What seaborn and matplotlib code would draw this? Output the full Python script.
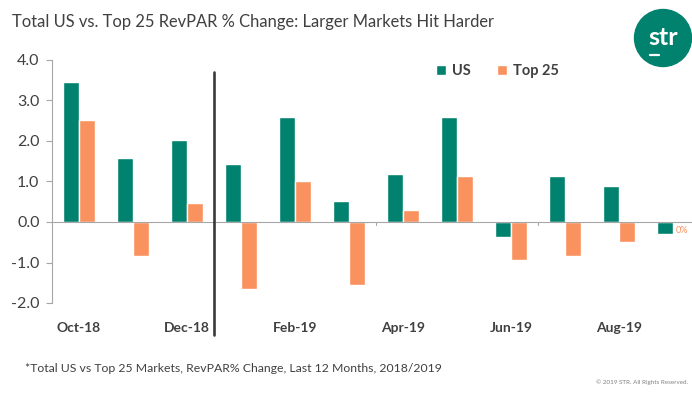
import matplotlib
matplotlib.use("Agg")
import matplotlib.pyplot as plt
from matplotlib.patches import Circle
import seaborn as sns
import pandas as pd

months = ["Oct-18", "Nov-18", "Dec-18", "Jan-19", "Feb-19", "Mar-19",
          "Apr-19", "May-19", "Jun-19", "Jul-19", "Aug-19", "Sep-19"]
us = [3.45, 1.58, 2.02, 1.43, 2.59, 0.52, 1.19, 2.59, -0.38, 1.13, 0.89, -0.30]
top25 = [2.53, -0.85, 0.46, -1.65, 1.02, -1.55, 0.30, 1.13, -0.93, -0.83, -0.49, 0.0]
series = ["US", "Top 25"]
yticks = [-2.0, -1.0, 0.0, 1.0, 2.0, 3.0, 4.0]

TEAL = "#00826F"
SALMON = "#F9925F"
TXT = "#404040"

df = pd.DataFrame({
    "month": months * 2,
    "value": us + top25,
    "series": [series[0]] * len(months) + [series[1]] * len(months),
})

sns.set_theme(style="white")
plt.rcParams["font.family"] = ["Lato", "DejaVu Sans"]

fig = plt.figure(figsize=(6.92, 3.93), dpi=100)
ax = fig.add_axes([52 / 692, 1 - 303 / 393, 1 - 52 / 692, (303 - 60) / 393])

sns.barplot(data=df, x="month", y="value", hue="series", order=months,
            hue_order=series, palette=[TEAL, SALMON], width=0.58,
            saturation=1, ax=ax, legend=True)

n = len(months)
ax.set_xlim(-0.5, (692 - 79) / 54)
ax.set_ylim(-2.0, 4.0)
ax.set_yticks(yticks)
ax.set_yticklabels([f"{v:.1f}" for v in yticks], fontsize=11.5, color=TXT)
ax.set_xticks(range(0, n, 2))
ax.set_xticklabels(months[::2], fontsize=10, fontweight="bold", color=TXT)
ax.tick_params(axis="x", length=0, pad=14)
ax.tick_params(axis="y", length=4, width=0.8, color="#A6A6A6", direction="out", left=True, pad=5)
ax.set_xlabel("")
ax.set_ylabel("")
for s in ["top", "right", "bottom"]:
    ax.spines[s].set_visible(False)
ax.spines["left"].set_color("#A6A6A6")
ax.spines["left"].set_linewidth(0.8)
ax.axhline(0, color="#A6A6A6", lw=0.8, zorder=1)
for b in range(2, n, 3):
    ax.plot([b + 0.5, b + 0.5], [0, -0.08], color="#A6A6A6", lw=0.8)

# divider line between Dec-18 and Jan-19
ax.plot([2.5, 2.5], [3.7, -2.78], color="#3A3A3A", lw=1.9, clip_on=False, zorder=5)

# 0% label for Sep-19 Top 25
ax.text(n - 1 + 0.06, top25[-1] - 0.2, "0%", color=SALMON, fontsize=6.5, va="center", ha="left")

h, l = ax.get_legend_handles_labels()
ax.legend(h, l, ncol=2, frameon=False, loc="center left",
          bbox_to_anchor=(423 / 692, 1 - 71 / 393), bbox_transform=fig.transFigure,
          handlelength=0.7, handleheight=0.7, handletextpad=0.4, columnspacing=1.8,
          prop={"size": 10.5, "weight": "bold"}, labelcolor=TXT)

fig.text(12 / 692, 1 - 22 / 393, "Total US vs. Top 25 RevPAR % Change: Larger Markets Hit Harder",
         fontsize=11.9, color=TXT, va="center", ha="left")
fig.text(25 / 692, 1 - 368 / 393,
         "*Total US vs Top 25 Markets, RevPAR% Change, Last 12 Months, 2018/2019",
         fontsize=8.8, color=TXT, va="center", ha="left")
fig.text(688 / 692, 1 - 382 / 393, "© 2019 STR. All Rights Reserved.",
         fontsize=4.5, color="#808080", va="center", ha="right")

# logo
logo_ax = fig.add_axes([633 / 692, 1 - 68 / 393, 60 / 692, 60 / 393])
logo_ax.set_xlim(-1, 1)
logo_ax.set_ylim(-1, 1)
logo_ax.set_aspect("equal")
logo_ax.axis("off")
logo_ax.add_patch(Circle((0, 0), 0.95, color=TEAL))
logo_ax.text(0, 0.02, "str", color="white", fontsize=18, fontweight="bold",
             ha="center", va="center")
logo_ax.plot([-0.42, -0.12], [-0.55, -0.55], color="white", lw=1.6)

fig.savefig("out.png", dpi=100)
